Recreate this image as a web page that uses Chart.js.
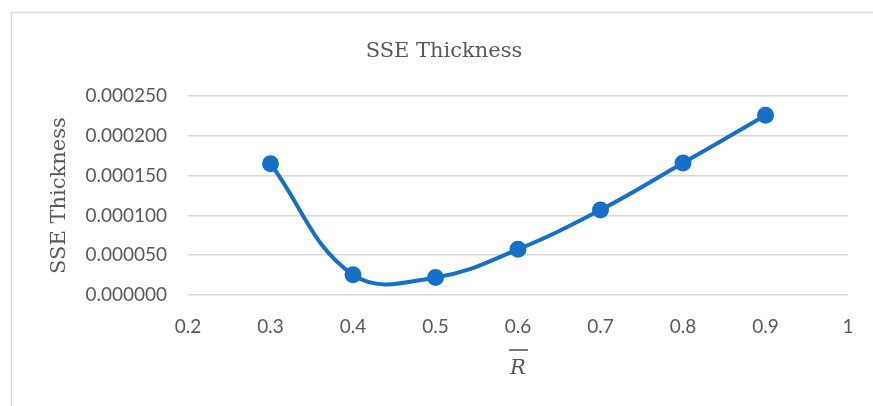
<!DOCTYPE html>
<html>
<head>
<meta charset="utf-8">
<script src="https://cdn.jsdelivr.net/npm/chart.js@4/dist/chart.umd.min.js"></script>
<style>
    html, body { margin: 0; padding: 0; background: #ffffff; }
    #wrap { width: 873px; height: 406px; }
</style>
</head>
<body>
<div id="wrap"><canvas id="sseChart"></canvas></div>
<script>

/* Chart Data */

const rBar = [0.3, 0.4, 0.5, 0.6, 0.7, 0.8, 0.9];

const sseThickness = [0.000165, 0.0000255, 0.000022, 0.0000575, 0.000107, 0.000166, 0.000226];

const yTicks = [0, 0.00005, 0.0001, 0.00015, 0.0002, 0.00025];

const xRange = [0.2, 1];


/* Frame + overline plugin */

const framePlugin = {
    id: "frame",
    beforeDraw(chart) {
        const c = chart.ctx;
        c.save();
        c.strokeStyle = "#d9d9d9";
        c.lineWidth = 1.5;
        c.strokeRect(11.5, 12.5, 950, 500);
        c.restore();
    },
    afterDraw(chart) {
        // bar over the R of the x axis title
        const xs = chart.scales.x;
        const c = chart.ctx;
        const cx = (chart.chartArea.left + chart.chartArea.right) / 2;
        const ty = xs.bottom - 39;
        c.save();
        c.strokeStyle = "#595959";
        c.lineWidth = 1.6;
        c.beginPath();
        c.moveTo(cx - 9, ty - 17);
        c.lineTo(cx + 10, ty - 17);
        c.stroke();
        c.restore();
    }
};


/* Create Chart */

const ctx = document.getElementById("sseChart");

const sseChart = new Chart(ctx, {

    type: "line",

    data: {
        datasets: [{
            label: "SSE Thickness",
            data: rBar.map((r, i) => ({ x: r, y: sseThickness[i] })),
            borderColor: "#1570c8",
            backgroundColor: "#1570c8",
            borderWidth: 4,
            pointRadius: 6.5,
            pointHoverRadius: 6.5,
            tension: 0.4,
            fill: false
        }]
    },

    options: {
        responsive: true,
        maintainAspectRatio: false,
        animation: false,
        layout: {
            padding: { left: 40, right: 25, top: 12, bottom: 0 }
        },
        plugins: {
            legend: { display: false },
            tooltip: { enabled: false },
            title: {
                display: true,
                text: "SSE Thickness",
                color: "#595959",
                font: { family: "DejaVu Serif", size: 21, weight: "normal" },
                padding: { top: 27, bottom: 32 }
            }
        },
        scales: {
            x: {
                type: "linear",
                min: xRange[0],
                max: xRange[1],
                grid: { display: false },
                border: { display: false },
                ticks: {
                    stepSize: 0.1,
                    color: "#595959",
                    padding: 12,
                    font: { family: "Lato", size: 19 },
                    callback: v => String(Number(v.toFixed(1)))
                },
                title: {
                    display: true,
                    text: "R",
                    color: "#595959",
                    font: { family: "DejaVu Serif", size: 21, style: "italic" },
                    padding: { top: 0, bottom: 25 }
                },
                afterFit: s => { s.height = 111; }
            },
            y: {
                min: yTicks[0],
                max: yTicks[yTicks.length - 1],
                grid: { color: "#d9d9d9", lineWidth: 1.5, drawTicks: false },
                border: { display: false },
                afterBuildTicks: s => { s.ticks = yTicks.map(v => ({ value: v })); },
                ticks: {
                    color: "#595959",
                    padding: 21,
                    font: { family: "Lato", size: 19 },
                    callback: v => v.toFixed(6)
                },
                title: {
                    display: true,
                    text: "SSE Thickness",
                    color: "#595959",
                    font: { family: "DejaVu Serif", size: 21 },
                    padding: { top: 7, bottom: 0 }
                },
                afterFit: s => { s.width = 148; }
            }
        }
    },

    plugins: [framePlugin]

});

</script>
</body>
</html>
